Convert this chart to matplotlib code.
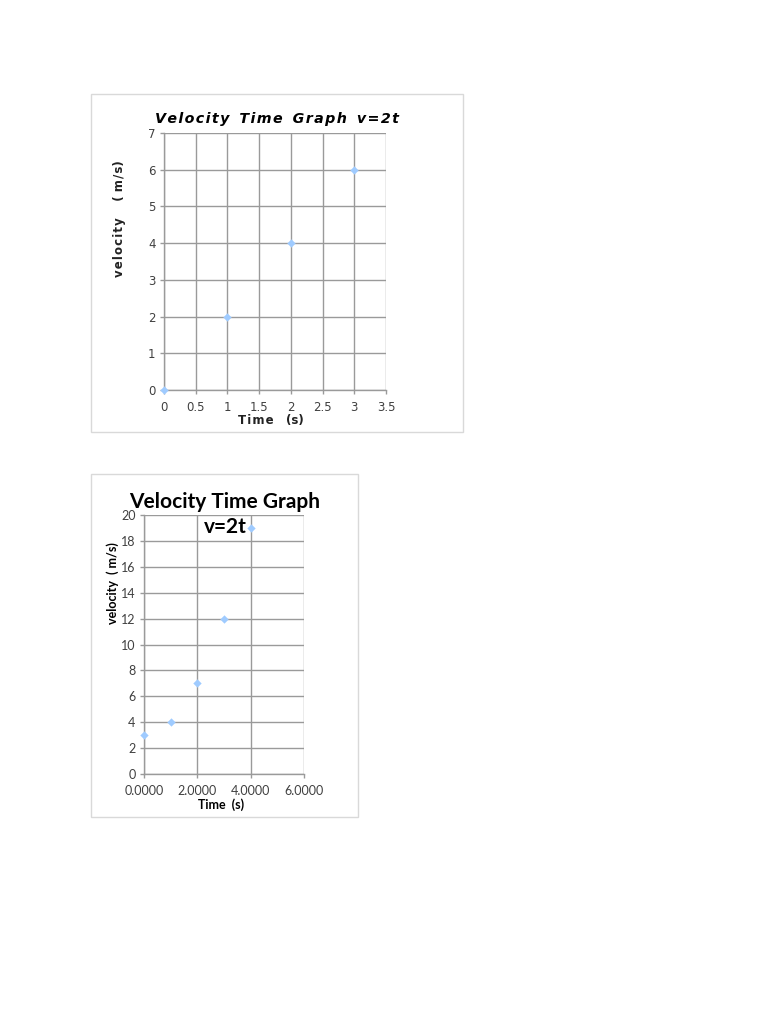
import matplotlib
matplotlib.use("Agg")
import matplotlib.pyplot as plt
from matplotlib.patches import Rectangle

# Chart 1 data
time1 = [0, 1, 2, 3]
vel1 = [0, 2, 4, 6]
xticks1 = [0, 0.5, 1, 1.5, 2, 2.5, 3, 3.5]
yticks1 = [0, 1, 2, 3, 4, 5, 6, 7]

# Chart 2 data
time2 = [0, 1, 2, 3, 4]
vel2 = [3, 4, 7, 12, 19]
xticks2 = [0, 2, 4, 6]
yticks2 = [0, 2, 4, 6, 8, 10, 12, 14, 16, 18, 20]

W, H = 768, 1024
fig = plt.figure(figsize=(7.68, 10.24), dpi=100)
fig.patch.set_facecolor("white")

def fx(px): return px / W
def fy(py): return 1 - py / H

def spaced(s, gap="\u200a"):
    return gap.join(s)

# frames
for (x0, y0, x1, y1) in [(91, 94, 463, 432), (91, 474, 358, 817)]:
    fig.patches.append(Rectangle((fx(x0), fy(y1)), fx(x1) - fx(x0), fy(y0) - fy(y1),
                                 transform=fig.transFigure, fill=False,
                                 edgecolor="#d9d9d9", linewidth=1.0))

grid_c = "#9a9a9a"
marker_c = "#9fcbff"
tick_c = "#404040"

def style(ax):
    for s in ["top", "right"]:
        ax.spines[s].set_visible(False)
    for s in ["left", "bottom"]:
        ax.spines[s].set_color(grid_c)
        ax.spines[s].set_linewidth(1.0)
    ax.grid(True, color=grid_c, linewidth=1.0)
    ax.set_axisbelow(True)
    ax.tick_params(direction="out", length=3, width=1, color=grid_c, labelcolor=tick_c)

# Chart 1
ax1 = fig.add_axes([fx(164), fy(390), fx(386) - fx(164), fy(133) - fy(390)])
style(ax1)
ax1.tick_params(axis="x", pad=5)
ax1.tick_params(axis="y", pad=3)
ax1.scatter(time1, vel1, marker="D", s=18, color=marker_c, zorder=3, clip_on=False, linewidths=0)
ax1.set_xlim(0, 3.5)
ax1.set_ylim(0, 7)
ax1.set_xticks(xticks1)
ax1.set_yticks(yticks1)
ax1.set_xticklabels([("%g" % v) for v in xticks1], fontsize=8.5, family="DejaVu Sans")
ax1.set_yticklabels([("%g" % v) for v in yticks1], fontsize=8.5, family="DejaVu Sans")
ax1.set_xlabel(spaced("Time") + "   (" + spaced("s") + ")", fontsize=8.5, fontweight="bold",
               family="DejaVu Sans", color="#222222")
ax1.xaxis.set_label_coords((271 - 164) / (386 - 164), -(414 - 390) / (390 - 133), transform=ax1.transAxes)
ax1.set_ylabel(spaced("velocity") + "    ( " + spaced("m/s") + ")", fontsize=8.5, fontweight="bold",
               family="DejaVu Sans", color="#222222")
ax1.yaxis.set_label_coords(-(164 - 126) / (386 - 164), (390 - 219) / (390 - 133), transform=ax1.transAxes)
fig.text(fx(277), fy(119), spaced("Velocity") + "  " + spaced("Time") + "  " + spaced("Graph") + "  " + spaced("v=2t"),
         ha="center", va="center", fontsize=10.3, fontweight="bold", style="italic", family="DejaVu Sans")

# Chart 2
ax2 = fig.add_axes([fx(144), fy(774), fx(304) - fx(144), fy(515) - fy(774)])
style(ax2)
ax2.tick_params(axis="x", pad=5)
ax2.tick_params(axis="y", pad=3)
ax2.scatter(time2, vel2, marker="D", s=18, color=marker_c, zorder=3, clip_on=False, linewidths=0)
ax2.set_xlim(0, 6)
ax2.set_ylim(0, 20)
ax2.set_xticks(xticks2)
ax2.set_yticks(yticks2)
ax2.set_xticklabels([("%.4f" % v) for v in xticks2], fontsize=9, family="Lato")
ax2.set_yticklabels([("%g" % v) for v in yticks2], fontsize=9, family="Lato")
ax2.set_xlabel("Time  (s)", fontsize=9, fontweight="bold", family="Lato")
ax2.xaxis.set_label_coords((221 - 144) / 160, -(798 - 774) / (774 - 515), transform=ax2.transAxes)
ax2.set_ylabel("velocity  ( m/s)", fontsize=9, fontweight="bold", family="Lato")
ax2.yaxis.set_label_coords(-(144 - 119) / 160, (774 - 583) / (774 - 515), transform=ax2.transAxes)
fig.text(fx(225), fy(502), "Velocity Time Graph", ha="center", va="center",
         fontsize=15, fontweight="bold", family="Lato")
fig.text(fx(225), fy(527), "v=2t", ha="center", va="center",
         fontsize=15, fontweight="bold", family="Lato")

fig.savefig("out.png", dpi=100, facecolor="white")
